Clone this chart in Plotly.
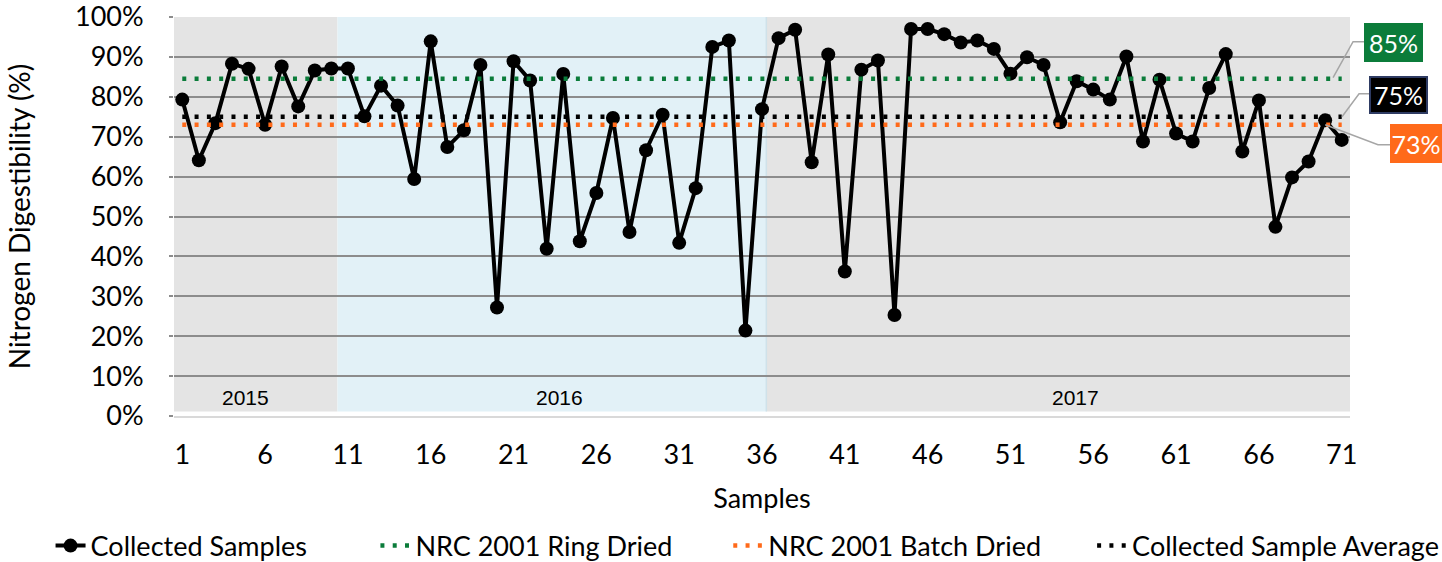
import plotly.graph_objects as go

# ---- data ----
samples = list(range(1, 72))
digestibility = [79.3, 64.1, 73.4, 88.3, 87.0, 73.0, 87.6, 77.6, 86.6, 87.1,
                 87.1, 75.1, 82.8, 77.8, 59.4, 93.9, 67.4, 71.6, 88.0, 27.2,
                 88.9, 84.1, 41.9, 85.7, 43.8, 55.9, 74.7, 46.1, 66.6, 75.5,
                 43.4, 57.1, 92.5, 94.1, 21.4, 76.9, 94.7, 96.8, 63.6, 90.6,
                 36.2, 86.8, 89.1, 25.3, 97.0, 97.0, 95.7, 93.6, 94.1, 92.0,
                 85.8, 89.9, 88.0, 73.6, 83.9, 81.8, 79.3, 90.1, 68.8, 84.3,
                 70.8, 68.8, 82.2, 90.7, 66.3, 79.1, 47.4, 59.8, 63.8, 74.1, 69.2]
digestibility = [v / 100 for v in digestibility]

ref_names = ["NRC 2001 Ring Dried", "NRC 2001 Batch Dried", "Collected Sample Average"]
ref_values = [0.845, 0.73, 0.75]
ref_colors = ["#0B7C3A", "#FF6A1A", "#000000"]

years = ["2015", "2016", "2017"]
year_bounds = [0.5, 10.37, 36.26, 71.5]
year_colors = ["#E4E4E4", "#E2F1F7", "#E4E4E4"]
year_label_x = [4.8, 23.8, 54.9]

x_ticks = list(range(1, 72, 5))
y_ticks = [i / 10 for i in range(0, 11)]

FONT = "Lato"
LEG_FONT = dict(family=FONT, size=27, color="#000000")

# legend entry left edges (px from page left) -> one legend per entry
legend_left_px = [50, 375, 728, 1092]
PLOT_L, PLOT_W = 173.5, 1176.5

fig = go.Figure()

fig.add_trace(go.Scatter(
    x=samples, y=digestibility, mode="lines+markers", name="Collected Samples",
    line=dict(color="#000000", width=4),
    marker=dict(color="#000000", size=14),
    legend="legend",
))

legend_ids = ["legend2", "legend3", "legend4"]
for name, val, col, lid in zip(ref_names, ref_values, ref_colors, legend_ids):
    fig.add_trace(go.Scatter(
        x=[samples[0], samples[-1]], y=[val, val], mode="lines", name=name,
        line=dict(color=col, width=4.5, dash="4px,8.3px"),
        legend=lid,
    ))

shapes = []
for i, yr in enumerate(years):
    shapes.append(dict(type="rect", xref="x", yref="y", layer="below",
                       x0=year_bounds[i], x1=year_bounds[i + 1], y0=0.011, y1=1.0,
                       fillcolor=year_colors[i], line=dict(width=0)))
shapes.append(dict(type="line", xref="x", yref="y", layer="below",
                   x0=year_bounds[2], x1=year_bounds[2], y0=0.011, y1=1.0,
                   line=dict(color="#CFE2EA", width=1.5)))

annotations = []
for i, yr in enumerate(years):
    annotations.append(dict(x=year_label_x[i], y=0.046, xref="x", yref="y", text=yr,
                            showarrow=False, font=dict(family="Liberation Sans", size=21, color="#000")))

# callouts in paper coordinates: (label, bg, border, box-left x, box-center y, box w, box h, leader points)
callouts = [
    ("85%", "#0B7C3A", None, 1.0119, 0.9368, 55, 35, [(0.9856, 0.8479), (1.0026, 0.9381), (1.0119, 0.9381)]),
    ("75%", "#000000", "#2E3B63", 1.0162, 0.8053, 51, 30, [(0.9932, 0.7501), (1.0077, 0.8078), (1.0162, 0.8078)]),
    ("73%", "#FF6A1A", None, 1.034, 0.6825, 48, 35, [(0.9789, 0.73), (1.0238, 0.680), (1.034, 0.680)]),
]
for label, bg, border, bx, by, bw, bh, pts in callouts:
    path = "M" + " L".join(f"{px},{py}" for px, py in pts)
    shapes.append(dict(type="path", xref="paper", yref="paper", path=path, layer="above",
                       line=dict(color="#A6A6A6", width=1.5)))
    annotations.append(dict(x=bx, y=by, xref="paper", yref="paper", xanchor="left", yanchor="middle",
                            text=label, showarrow=False, bgcolor=bg,
                            bordercolor=border if border else "rgba(0,0,0,0)",
                            borderwidth=2 if border else 0, borderpad=2, width=bw, height=bh,
                            font=dict(family=FONT, size=25, color="#FFFFFF")))

legend_layouts = {}
for key, px in zip(["legend", "legend2", "legend3", "legend4"], legend_left_px):
    legend_layouts[key] = dict(orientation="h", x=(px - PLOT_L) / PLOT_W, xanchor="left",
                               y=-0.326, yanchor="middle", font=LEG_FONT,
                               bgcolor="rgba(0,0,0,0)", itemwidth=30)

fig.update_layout(
    width=1442, height=562,
    margin=dict(l=PLOT_L, r=1442 - PLOT_L - PLOT_W, t=17.3, b=145.7, autoexpand=False),
    paper_bgcolor="#FFFFFF", plot_bgcolor="#FFFFFF",
    font=dict(family=FONT, size=27, color="#000000"),
    shapes=shapes, annotations=annotations,
    showlegend=True,
    **legend_layouts,
)
fig.update_xaxes(
    range=[0.5, 71.5], tickmode="array", tickvals=x_ticks, ticktext=[str(t) for t in x_ticks],
    showgrid=False, zeroline=False, showline=True, linecolor="#D9D9D9", linewidth=2,
    ticks="outside", ticklen=14, tickcolor="rgba(0,0,0,0)", automargin=True,
    tickfont=dict(family=FONT, size=27, color="#000"),
    title=dict(text="Samples", font=dict(family=FONT, size=27, color="#000"), standoff=20),
)
fig.update_yaxes(
    range=[0, 1.0], tickmode="array", tickvals=y_ticks, tickformat=".0%",
    showgrid=True, gridcolor="#8C8C8C", gridwidth=1.5, zeroline=False, automargin=True,
    ticks="outside", ticklen=4, tickcolor="#8C8C8C", tickwidth=1.5, ticklabelstandoff=20,
    ticklabeloverflow="allow",
    tickfont=dict(family=FONT, size=27, color="#000"),
    title=dict(text="Nitrogen Digestibility (%)", font=dict(family=FONT, size=28, color="#000"), standoff=36),
)

fig.write_html("out.html", config={"displayModeBar": False},
               post_script="document.body.style.margin='0';")
